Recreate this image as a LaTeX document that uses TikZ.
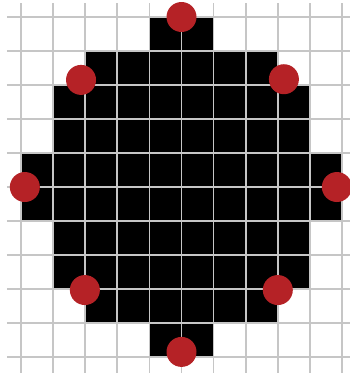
\documentclass[tikz,border=0pt]{standalone}
\usepackage{tikz}
\definecolor{dotred}{HTML}{B52226}
\definecolor{gridgray}{HTML}{C6C6C6}

\begin{document}
\begin{tikzpicture}[xscale=1.1282, yscale=-1.1950,
    gridline/.style={draw=gridgray, line width=1.6pt},
    dot/.style={circle, fill=dotred, inner sep=0pt, minimum size=30pt}]
    \useasboundingbox (-0.654,-0.5) rectangle (10.249,10.47);
    % filled cells
    \fill[black] (4,0) -- (6,0) -- (6,1) -- (8,1) -- (8,2) -- (9,2) -- (9,4) -- (10,4)
        -- (10,6) -- (9,6) -- (9,8) -- (8,8) -- (8,9) -- (6,9) -- (6,10) -- (4,10)
        -- (4,9) -- (2,9) -- (2,8) -- (1,8) -- (1,6) -- (0,6) -- (0,4) -- (1,4)
        -- (1,2) -- (2,2) -- (2,1) -- (4,1) -- cycle;
    % grid
    \foreach \i in {0,...,10} {
        \draw[gridline] (-0.44,\i) -- (10.4,\i);
        \draw[gridline] (\i,-0.41) -- (\i,10.6);
    }
    % points
    \node[dot] (pt-n)  at (5,0) {};
    \node[dot] (pt-nw) at (1.87,1.85) {};
    \node[dot] (pt-ne) at (8.19,1.83) {};
    \node[dot] (pt-w)  at (0.12,5) {};
    \node[dot] (pt-e)  at (9.84,5) {};
    \node[dot] (pt-sw) at (1.99,8.03) {};
    \node[dot] (pt-se) at (8.0,8.03) {};
    \node[dot] (pt-s)  at (5,9.85) {};
\end{tikzpicture}
\end{document}
